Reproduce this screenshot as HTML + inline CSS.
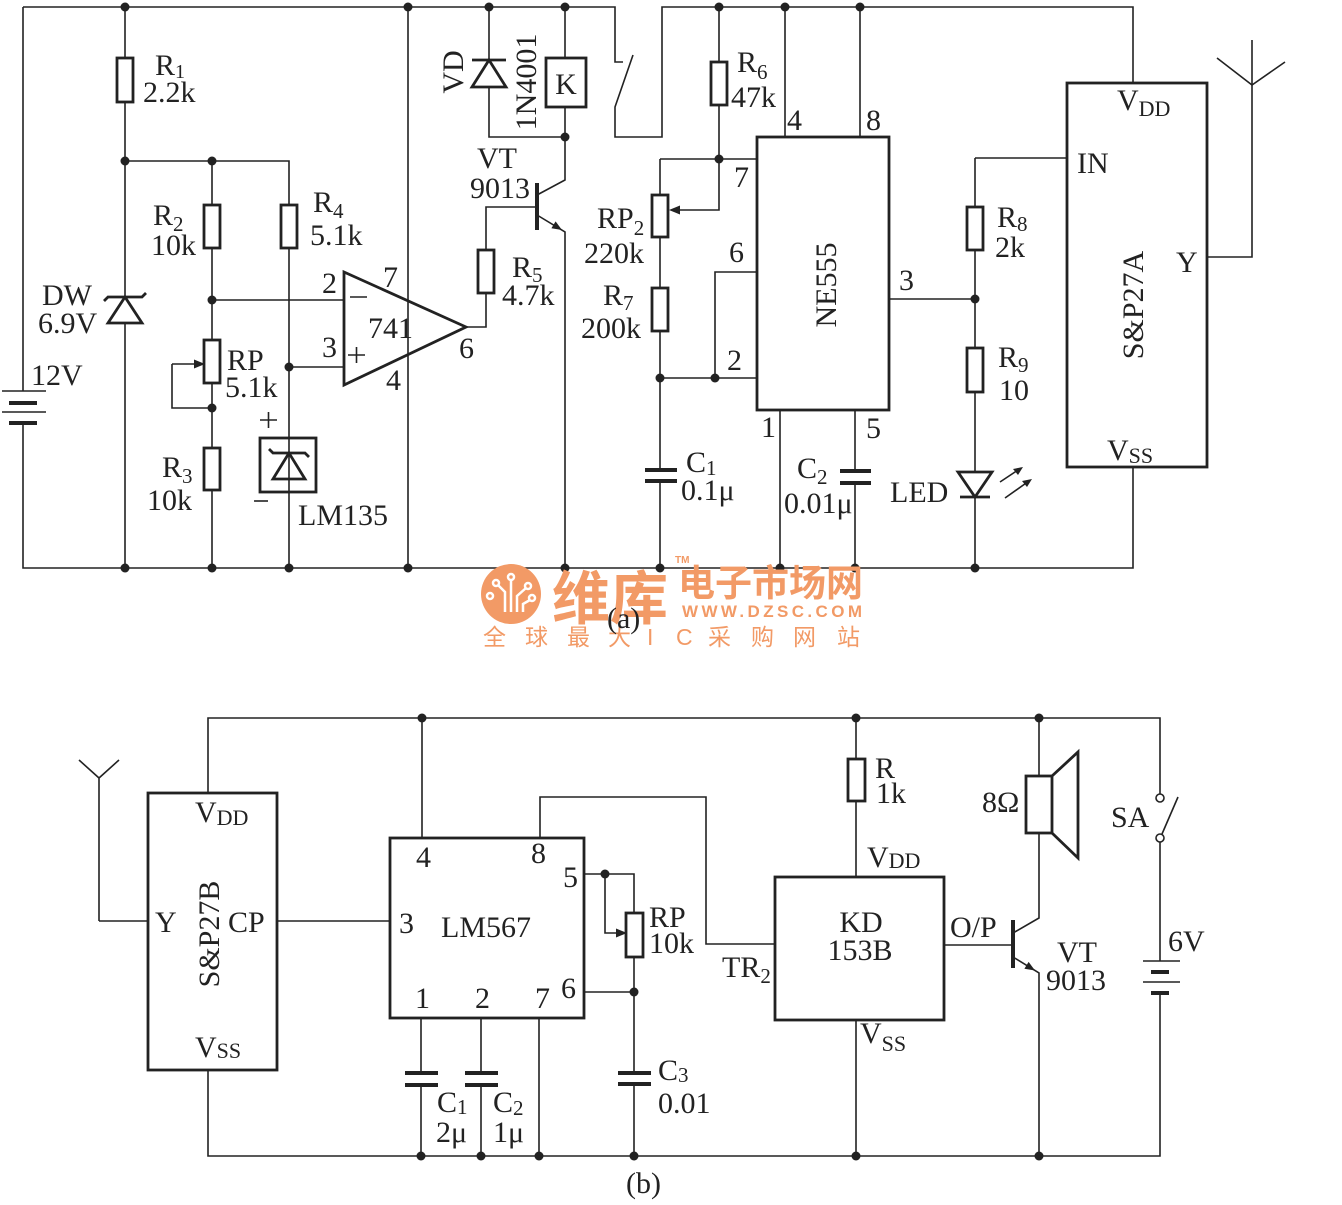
<!DOCTYPE html>
<html><head><meta charset="utf-8"><style>
html,body{margin:0;padding:0;background:#fff;}
svg{display:block;}
text{font-family:"Liberation Serif",serif;font-size:30px;fill:#222;}
</style></head><body>
<svg width="1342" height="1205" viewBox="0 0 1342 1205" xmlns="http://www.w3.org/2000/svg">
<rect x="0" y="0" width="1342" height="1205" fill="#fff"/>

<!-- ===== (a) wires ===== -->
<g fill="none" stroke="#222" stroke-width="1.6">
<path d="M23,7 H615 V62 H623"/>
<path d="M633,55 L615,107 V137 H662 V7 H1133 V83"/>
<path d="M23,7 V391"/>
<path d="M23,423 V568 H1133 V467"/>
<path d="M125,7 V58 M125,102 V297 M125,323 V568"/>
<path d="M125,161 H289 V205 M289,248 V568"/>
<path d="M212,161 V205 M212,248 V340 M212,383 V448 M212,490 V568"/>
<path d="M212,300 H344"/>
<path d="M289,367 H344"/>
<path d="M172,364 H198 M172,364 V408 H212"/>
<path d="M408,7 V568"/>
<path d="M466,327 H486 V293 M486,250 V207 H537"/>
<path d="M537,195 L565,180 V137"/>
<path d="M537,215 L565,232 V568"/>
<path d="M565,7 V58 M565,107 V137"/>
<path d="M489,7 V60 M489,87 V137 H565"/>
<path d="M719,7 V62 M719,105 V210 H676"/>
<path d="M660,159 H757 M660,159 V195 M660,237 V288 M660,331 V470 M660,481 V568"/>
<path d="M660,378 H757 M715,378 V272 H757"/>
<path d="M785,7 V137 M860,7 V137"/>
<path d="M780,410 V568 M855,410 V471 M855,483 V568"/>
<path d="M889,299 H975"/>
<path d="M975,158 H1067 M975,158 V207 M975,250 V348 M975,392 V472 M975,497 V568"/>
<path d="M1207,257 H1252 V40"/>
<path d="M1217,58 L1252,85 L1285,62"/>
<!-- battery a long plates -->
<path d="M2,391 H46 M2,412 H46"/>
<!-- plus/minus marks -->
<path d="M260,420 H277 M268.5,412 V428"/>
<path d="M254,501 H268"/>
<path d="M350,297 H367"/>
<path d="M348,355 H365 M356.5,347 V363"/>
<!-- LED arrows -->
<path d="M1000,482 L1021,468 M1005,498 L1029,481"/>
</g>

<!-- ===== (a) thick parts ===== -->
<g fill="#fff" stroke="#222" stroke-width="2.8">
<rect x="117" y="58" width="16" height="44"/>
<rect x="204" y="205" width="16" height="43"/>
<rect x="281" y="205" width="16" height="43"/>
<rect x="204" y="340" width="16" height="43"/>
<rect x="204" y="448" width="16" height="42"/>
<rect x="478" y="250" width="16" height="43"/>
<rect x="711" y="62" width="16" height="43"/>
<rect x="652" y="195" width="16" height="42"/>
<rect x="652" y="288" width="16" height="43"/>
<rect x="967" y="207" width="16" height="43"/>
<rect x="967" y="348" width="16" height="44"/>
<rect x="546" y="58" width="40" height="49"/>
<rect x="757" y="137" width="132" height="273" fill="none"/>
<rect x="1067" y="83" width="140" height="384" fill="none"/>
<rect x="260" y="438" width="56" height="54" fill="none"/>
<polygon points="344,272 344,385 466,327" fill="none"/>
<!-- diodes -->
<polygon points="125,297 108,323 142,323" fill="none"/>
<path d="M104,301 L108,297 H142 L146,293" fill="none"/>
<polygon points="489,60 472,87 506,87" fill="none"/>
<path d="M472,60 H506" fill="none"/>
<polygon points="289,453 273,479 305,479" fill="none"/>
<path d="M269,449 L273,453 H305 L309,457" fill="none"/>
<polygon points="958,472 992,472 975,497" fill="none"/>
<path d="M960,497 H990" fill="none"/>
</g>
<g stroke="#222" stroke-width="4" fill="none">
<path d="M9,403 H37 M9,423 H37"/>
<path d="M645,470 H677 M645,481 H677"/>
<path d="M840,471 H871 M840,483 H871"/>
<path d="M537,183 V230"/>
</g>
<!-- arrowheads (a) -->
<g fill="#222" stroke="none">
<polygon points="562,230 551.4,228.2 555.6,221.4"/>
<polygon points="205,364 194,359.5 194,368.5"/>
<polygon points="669,210 680,205.5 680,214.5"/>
<polygon points="1023,467 1013,469 1018,475"/>
<polygon points="1032,479 1022,481 1027,487"/>
</g>
<!-- dots (a) -->
<g fill="#222">
<circle cx="125" cy="7" r="4.5"/><circle cx="408" cy="7" r="4.5"/><circle cx="489" cy="7" r="4.5"/>
<circle cx="565" cy="7" r="4.5"/><circle cx="719" cy="7" r="4.5"/><circle cx="785" cy="7" r="4.5"/>
<circle cx="860" cy="7" r="4.5"/>
<circle cx="125" cy="161" r="4.5"/><circle cx="212" cy="161" r="4.5"/>
<circle cx="212" cy="300" r="4.5"/><circle cx="289" cy="367" r="4.5"/><circle cx="212" cy="408" r="4.5"/>
<circle cx="565" cy="137" r="4.5"/><circle cx="719" cy="159" r="4.5"/>
<circle cx="660" cy="378" r="4.5"/><circle cx="715" cy="378" r="4.5"/><circle cx="975" cy="299" r="4.5"/>
<circle cx="125" cy="568" r="4.5"/><circle cx="212" cy="568" r="4.5"/><circle cx="289" cy="568" r="4.5"/>
<circle cx="408" cy="568" r="4.5"/><circle cx="565" cy="568" r="4.5"/><circle cx="660" cy="568" r="4.5"/>
<circle cx="780" cy="568" r="4.5"/><circle cx="855" cy="568" r="4.5"/><circle cx="975" cy="568" r="4.5"/>
</g>

<!-- ===== (a) texts ===== -->
<text x="155" y="75">R<tspan font-size="20" dy="3">1</tspan></text>
<text x="143" y="102">2.2k</text>
<text x="153" y="225">R<tspan font-size="21" dy="6">2</tspan></text>
<text x="151" y="255">10k</text>
<text x="313" y="212">R<tspan font-size="21" dy="6">4</tspan></text>
<text x="310" y="245">5.1k</text>
<text x="322" y="293">2</text>
<text x="383" y="287">7</text>
<text x="42" y="305">DW</text>
<text x="38" y="333">6.9V</text>
<text x="31" y="385">12V</text>
<text x="227" y="370">RP</text>
<text x="225" y="397">5.1k</text>
<text x="162" y="477">R<tspan font-size="21" dy="6">3</tspan></text>
<text x="147" y="510">10k</text>
<text x="298" y="525">LM135</text>
<text x="322" y="357">3</text>
<text x="368" y="338">741</text>
<text x="386" y="390">4</text>
<text x="459" y="358">6</text>
<text x="512" y="277">R<tspan font-size="21" dy="5">5</tspan></text>
<text x="502" y="305">4.7k</text>
<text x="477" y="168">VT</text>
<text x="470" y="198">9013</text>
<text transform="translate(463,72) rotate(-90)" text-anchor="middle">VD</text>
<text transform="translate(536,82) rotate(-90)" text-anchor="middle">1N4001</text>
<text x="566" y="94" text-anchor="middle">K</text>
<text x="737" y="72">R<tspan font-size="21" dy="7">6</tspan></text>
<text x="731" y="107">47k</text>
<text x="787" y="130">4</text>
<text x="866" y="130">8</text>
<text x="734" y="187">7</text>
<text x="597" y="228">RP<tspan font-size="21" dy="7">2</tspan></text>
<text x="584" y="263">220k</text>
<text x="729" y="262">6</text>
<text x="603" y="305">R<tspan font-size="21" dy="5">7</tspan></text>
<text x="581" y="338">200k</text>
<text x="727" y="370">2</text>
<text x="686" y="472">C<tspan font-size="21" dy="3">1</tspan></text>
<text x="681" y="500">0.1μ</text>
<text x="761" y="437">1</text>
<text x="866" y="438">5</text>
<text x="797" y="478">C<tspan font-size="21" dy="6">2</tspan></text>
<text x="784" y="513">0.01μ</text>
<text transform="translate(836,285) rotate(-90)" text-anchor="middle">NE555</text>
<text x="899" y="290">3</text>
<text x="890" y="502">LED</text>
<text x="997" y="227">R<tspan font-size="21" dy="4">8</tspan></text>
<text x="995" y="257">2k</text>
<text x="998" y="367">R<tspan font-size="21" dy="5">9</tspan></text>
<text x="999" y="400">10</text>
<text x="1117" y="110">V<tspan font-size="22" dy="6">DD</tspan></text>
<text x="1077" y="173">IN</text>
<text x="1176" y="272">Y</text>
<text transform="translate(1143,305) rotate(-90)" text-anchor="middle">S&amp;P27A</text>
<text x="1107" y="460">V<tspan font-size="22" dy="3">SS</tspan></text>

<!-- ===== watermark ===== -->
<g>
<circle cx="511" cy="594" r="30" fill="#f29a66"/>
<g stroke="#fff" stroke-width="2.5" fill="none">
<path d="M505,612 V592 L498,585 M511,612 V580 M517,612 V596 L526,588 M523,612 V604 L530,600"/>
<circle cx="496" cy="583" r="3"/><circle cx="511" cy="577" r="3"/><circle cx="528" cy="586" r="3"/><circle cx="532" cy="598" r="3"/><circle cx="490" cy="596" r="3"/>
</g>
<g fill="#f29a66" style="font-family:'Noto Sans CJK SC',sans-serif">
<text x="552" y="619" style="font-family:'Noto Sans CJK SC',sans-serif;font-size:58px;font-weight:bold;fill:#f29a66">维库</text>
<text x="678" y="596" style="font-family:'Noto Sans CJK SC',sans-serif;font-size:37px;font-weight:bold;fill:#f29a66">电子市场网</text>
<text x="675" y="563" style="font-family:'Liberation Sans',sans-serif;font-size:10px;font-weight:bold;fill:#f29a66">TM</text>
<text x="682" y="617" textLength="180" lengthAdjust="spacing" style="font-family:'Liberation Sans',sans-serif;font-size:17px;font-weight:bold;fill:#f29a66">WWW.DZSC.COM</text>
<g style="font-family:'Liberation Sans','Noto Sans CJK SC',sans-serif;font-size:23px;fill:#f29a66">
<text x="483" y="645" style="font-family:'Noto Sans CJK SC',sans-serif;font-size:23px;fill:#f29a66">全</text>
<text x="525" y="645" style="font-family:'Noto Sans CJK SC',sans-serif;font-size:23px;fill:#f29a66">球</text>
<text x="567" y="645" style="font-family:'Noto Sans CJK SC',sans-serif;font-size:23px;fill:#f29a66">最</text>
<text x="608" y="645" style="font-family:'Noto Sans CJK SC',sans-serif;font-size:23px;fill:#f29a66">大</text>
<text x="647" y="645" style="font-family:'Liberation Sans',sans-serif;font-size:23px;fill:#f29a66">I</text>
<text x="676" y="645" style="font-family:'Liberation Sans',sans-serif;font-size:23px;fill:#f29a66">C</text>
<text x="708" y="645" style="font-family:'Noto Sans CJK SC',sans-serif;font-size:23px;fill:#f29a66">采</text>
<text x="751" y="645" style="font-family:'Noto Sans CJK SC',sans-serif;font-size:23px;fill:#f29a66">购</text>
<text x="793" y="645" style="font-family:'Noto Sans CJK SC',sans-serif;font-size:23px;fill:#f29a66">网</text>
<text x="837" y="645" style="font-family:'Noto Sans CJK SC',sans-serif;font-size:23px;fill:#f29a66">站</text>
</g>
</g>
</g>
<text x="607" y="628">(a)</text>

<!-- ===== (b) wires ===== -->
<g fill="none" stroke="#222" stroke-width="1.6">
<path d="M208,793 V718 H1160 V794"/>
<path d="M99,921 V778 M79,760 L99,778 L119,760"/>
<path d="M99,921 H148"/>
<path d="M277,921 H390"/>
<path d="M422,718 V838"/>
<path d="M540,838 V797 H706 V944 H775"/>
<path d="M584,874 H634 V913 M605,874 V933 H618"/>
<path d="M634,957 V1073 M634,1084 V1156"/>
<path d="M584,992 H634"/>
<path d="M421,1018 V1073 M421,1085 V1156"/>
<path d="M481,1018 V1073 M481,1085 V1156"/>
<path d="M539,1018 V1156"/>
<path d="M208,1070 V1156 H1160 V993"/>
<path d="M1160,842 V961"/>
<path d="M856,718 V759 M856,801 V877 M856,1020 V1156"/>
<path d="M944,945 H1013"/>
<path d="M1013,933 L1039,918 V833"/>
<path d="M1039,718 V776"/>
<path d="M1013,957 L1039,973 V1156"/>
<path d="M1162,834 L1178,797"/>
<path d="M1143,961 H1180 M1143,982 H1180"/>
</g>
<g fill="#fff" stroke="#222" stroke-width="2.8">
<rect x="148" y="793" width="129" height="277" fill="none"/>
<rect x="390" y="838" width="194" height="180" fill="none"/>
<rect x="775" y="877" width="169" height="143" fill="none"/>
<rect x="848" y="759" width="17" height="42"/>
<rect x="626" y="913" width="17" height="44"/>
<rect x="1026" y="776" width="26" height="57"/>
<path d="M1052,776 L1078,752 V858 L1052,833" fill="none"/>
</g>
<g stroke="#222" stroke-width="4" fill="none">
<path d="M405,1073 H438 M405,1085 H438"/>
<path d="M465,1073 H498 M465,1085 H498"/>
<path d="M618,1073 H651 M618,1084 H651"/>
<path d="M1013,920 V968"/>
<path d="M1151,972 H1169 M1151,993 H1169"/>
</g>
<g fill="#fff" stroke="#222" stroke-width="1.6">
<circle cx="1160" cy="798" r="4"/>
<circle cx="1160" cy="838" r="4"/>
</g>
<g fill="#222" stroke="none">
<polygon points="1035,970.5 1024.4,968.7 1028.6,961.9"/>
<polygon points="627,933 616,928.5 616,937.5"/>
</g>
<g fill="#222">
<circle cx="422" cy="718" r="4.5"/><circle cx="856" cy="718" r="4.5"/><circle cx="1039" cy="718" r="4.5"/>
<circle cx="605" cy="874" r="4.5"/><circle cx="634" cy="992" r="4.5"/>
<circle cx="421" cy="1156" r="4.5"/><circle cx="481" cy="1156" r="4.5"/><circle cx="539" cy="1156" r="4.5"/>
<circle cx="634" cy="1156" r="4.5"/><circle cx="856" cy="1156" r="4.5"/><circle cx="1039" cy="1156" r="4.5"/>
</g>

<!-- ===== (b) texts ===== -->
<text x="195" y="822">V<tspan font-size="22" dy="3">DD</tspan></text>
<text x="155" y="932">Y</text>
<text transform="translate(219,934) rotate(-90)" text-anchor="middle">S&amp;P27B</text>
<text x="228" y="932">CP</text>
<text x="195" y="1057">V<tspan font-size="22" dy="1">SS</tspan></text>
<text x="416" y="867">4</text>
<text x="531" y="863">8</text>
<text x="563" y="887">5</text>
<text x="399" y="933">3</text>
<text x="441" y="937">LM567</text>
<text x="415" y="1008">1</text>
<text x="475" y="1008">2</text>
<text x="535" y="1008">7</text>
<text x="561" y="998">6</text>
<text x="649" y="927">RP</text>
<text x="649" y="953">10k</text>
<text x="658" y="1080">C<tspan font-size="21" dy="2">3</tspan></text>
<text x="658" y="1113">0.01</text>
<text x="437" y="1112">C<tspan font-size="21" dy="2">1</tspan></text>
<text x="436" y="1142">2μ</text>
<text x="493" y="1112">C<tspan font-size="21" dy="3">2</tspan></text>
<text x="493" y="1142">1μ</text>
<text x="626" y="1193">(b)</text>
<text x="875" y="778">R</text>
<text x="876" y="803">1k</text>
<text x="867" y="867">V<tspan font-size="22" dy="1">DD</tspan></text>
<text x="861" y="932" text-anchor="middle">KD</text>
<text x="860" y="960" text-anchor="middle">153B</text>
<text x="722" y="977">TR<tspan font-size="21" dy="6">2</tspan></text>
<text x="950" y="937">O/P</text>
<text x="860" y="1043">V<tspan font-size="22" dy="8">SS</tspan></text>
<text x="982" y="812">8Ω</text>
<text x="1111" y="827">SA</text>
<text x="1057" y="962">VT</text>
<text x="1046" y="990">9013</text>
<text x="1168" y="951">6V</text>
</svg>
</body></html>
